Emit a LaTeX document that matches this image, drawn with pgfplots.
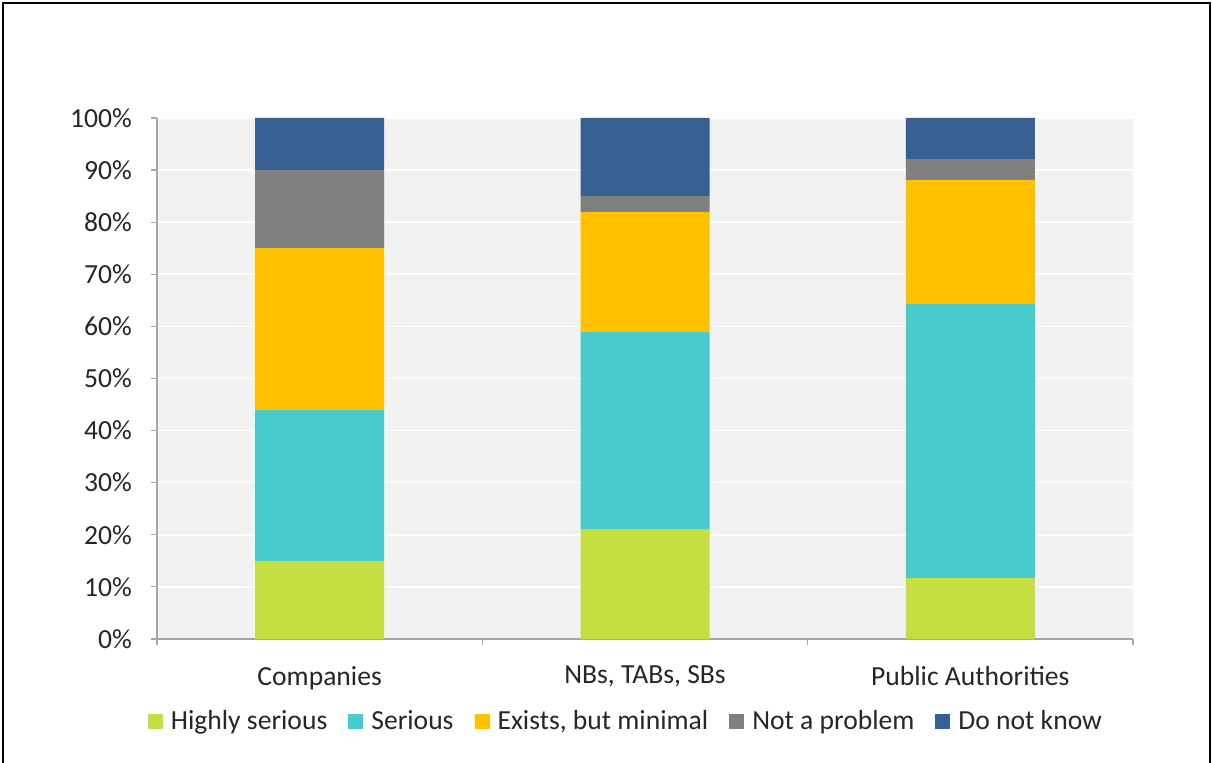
\documentclass[border=0pt]{standalone}
\usepackage{fontspec}
\setmainfont{Carlito}
\usepackage{pgfplots}
\pgfplotsset{compat=1.18}

\definecolor{hiser}{HTML}{C5DF43}
\definecolor{ser}{HTML}{48CBCC}
\definecolor{exmin}{HTML}{FFC000}
\definecolor{noprob}{HTML}{808080}
\definecolor{dnk}{HTML}{366092}
\definecolor{plotbg}{HTML}{F2F2F2}
\definecolor{axgray}{HTML}{A6A6A6}
\definecolor{txt}{HTML}{262626}

\begin{document}
\begin{tikzpicture}
\path[use as bounding box] (0,0) rectangle (606.5pt,381.5pt);
\draw[line width=1pt] (1.5pt,0) -- (1.5pt,380pt) -- (604.75pt,380pt) -- (604.75pt,0);
\begin{axis}[
  at={(78.5pt,62pt)}, anchor=south west,
  scale only axis, width=488pt, height=260.5pt,
  ybar stacked, bar width=64.5pt,
  xmin=-0.5, xmax=2.5, ymin=0, ymax=100,
  axis background/.style={fill=plotbg},
  axis x line*=bottom, axis y line*=left,
  axis line style={axgray, line width=0.6pt},
  every tick/.style={axgray, line width=0.6pt},
  tick align=outside,
  xtick={0,1,2},
  xticklabels={Companies, {NBs, TABs, SBs}, Public Authorities},
  major x tick style={draw=none},
  minor xtick={-0.5,0.5,1.5,2.5},
  minor tick length=3pt,
  major tick length=3pt,
  ytick={0,10,...,100},
  yticklabels={0\%,10\%,20\%,30\%,40\%,50\%,60\%,70\%,80\%,90\%,100\%},
  ymajorgrids, grid style={white, line width=0.8pt},
  ticklabel style={font=\fontsize{13.8}{16}\selectfont, text=txt},
  yticklabel style={xshift=-6pt},
  xticklabel style={yshift=-7pt},
  legend style={at={(0.4815,-0.158)}, anchor=center, draw=none, fill=none,
    legend columns=5, font=\fontsize{13.8}{16}\selectfont, text=txt,
    /tikz/every even column/.append style={column sep=8.5pt},
    /tikz/every odd column/.append style={column sep=2pt}},
  legend image code/.code={\fill (0pt,-3.8pt) rectangle (7.5pt,3.7pt);},
]
\addplot[fill=hiser, draw=none] coordinates {(0,15) (1,21) (2,11.7)};
\addplot[fill=ser, draw=none] coordinates {(0,29) (1,38) (2,52.6)};
\addplot[fill=exmin, draw=none] coordinates {(0,31) (1,23) (2,23.8)};
\addplot[fill=noprob, draw=none] coordinates {(0,15) (1,3) (2,4)};
\addplot[fill=dnk, draw=none] coordinates {(0,10) (1,15) (2,7.9)};
\legend{Highly serious, Serious, {Exists, but minimal}, Not a problem, Do not know}
\end{axis}
\end{tikzpicture}
\end{document}
